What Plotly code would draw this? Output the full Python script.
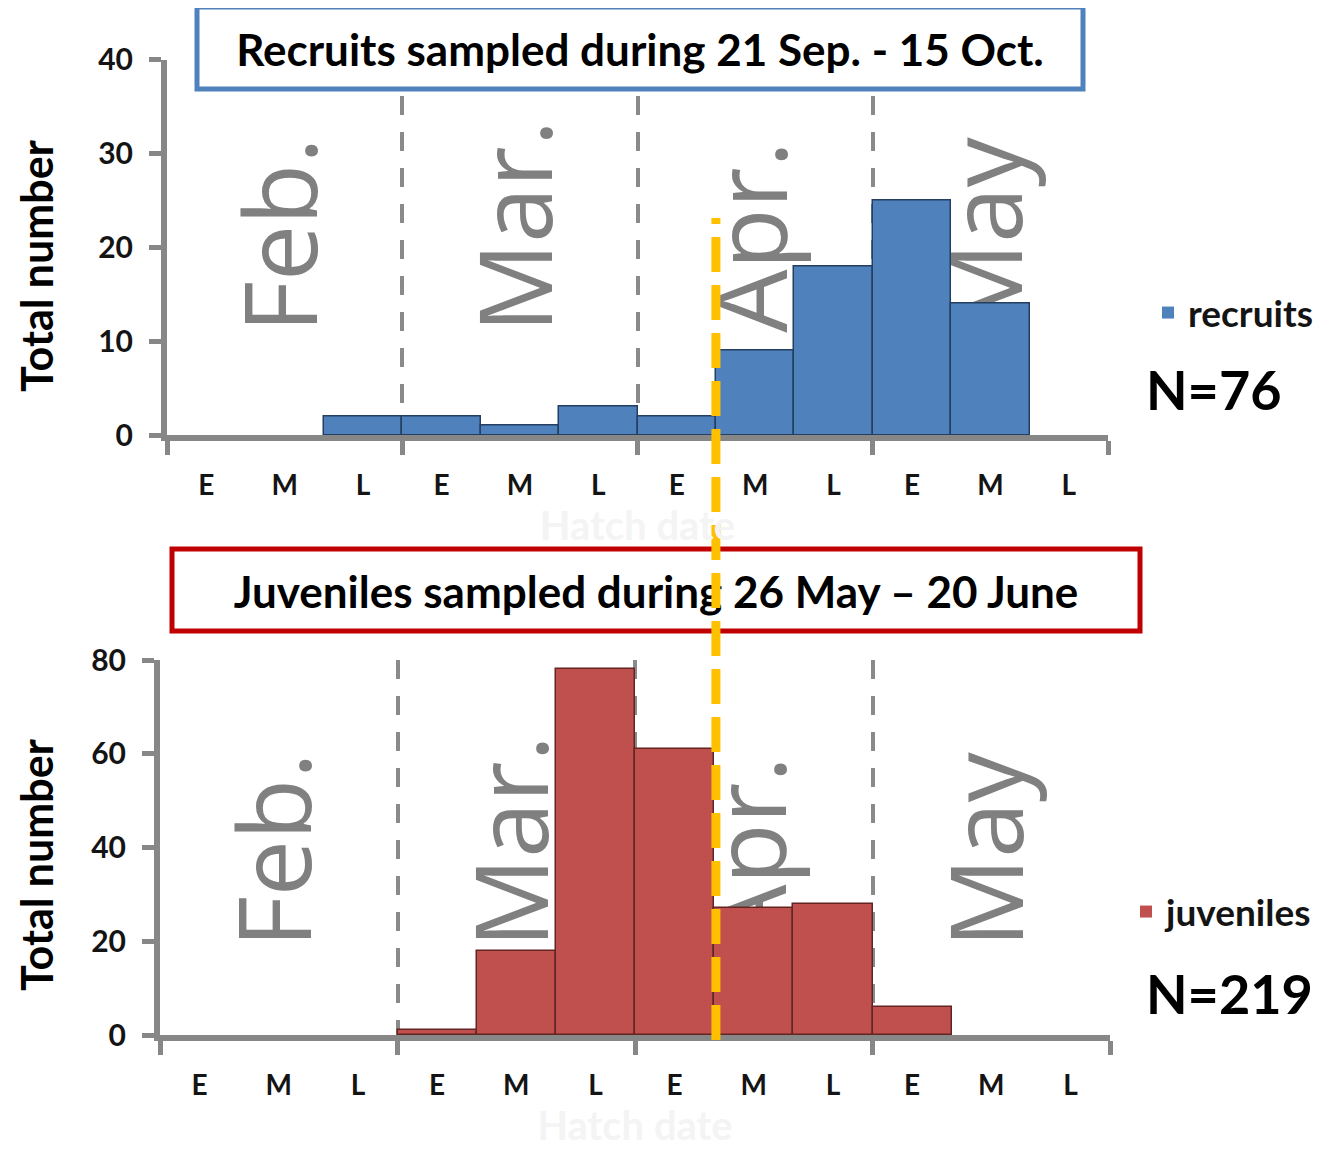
import plotly.graph_objects as go

# ---------------- data ----------------
months = ["Feb.", "Mar.", "Apr.", "May"]
periods = ["E", "M", "L"]
recruits = [0, 0, 2, 2, 1, 3, 2, 9, 18, 25, 14, 0]
juveniles = [0, 0, 0, 1, 18, 78, 61, 27, 28, 6, 0, 0]
top_yticks = [0, 10, 20, 30, 40]
bottom_yticks = [0, 20, 40, 60, 80]
top_title = "Recruits sampled during 21 Sep. - 15 Oct."
bottom_title = "Juveniles sampled during 26 May \u2013 20 June"
top_n = "N=76"
bottom_n = "N=219"
y_title = "Total number"
x_title = "Hatch date"
cutoff_bin = 7  # boundary between early and mid April

# ---------------- derived ----------------
bin_labels = [p for m in months for p in periods]
centers = [i + 0.5 for i in range(len(bin_labels))]
boundaries = [3 * i for i in range(len(months) + 1)]
nbins = len(bin_labels)

W, H = 1329, 1164
OFF = 8  # page body margin
def px(v):
    return (v - OFF) / W
def py(v):
    return 1 - (v - OFF) / H

FONT = "Lato, 'Open Sans', sans-serif"
MONTH_FONT = "'Open Sans', Lato, sans-serif"
AXC = "#878787"
TXT = "#141414"

def outline_widths(vals):
    return [0 if v == 0 else 1.5 for v in vals]

fig = go.Figure()
fig.add_trace(go.Bar(
    x=centers, y=recruits, width=1, name="recruits", showlegend=True,
    marker=dict(color="#4F81BD", line=dict(color="#243F60", width=outline_widths(recruits))),
    xaxis="x", yaxis="y", legend="legend",
))
fig.add_trace(go.Bar(
    x=centers, y=juveniles, width=1, name="juveniles", showlegend=True,
    marker=dict(color="#C0504D", line=dict(color="#632523", width=outline_widths(juveniles))),
    xaxis="x2", yaxis="y2", legend="legend2",
))

def xaxis_cfg(domain, anchor):
    return dict(
        domain=domain, anchor=anchor, range=[0, nbins], automargin=False,
        tickmode="array", tickvals=centers, ticktext=bin_labels,
        ticks="", showgrid=False, zeroline=False,
        showline=True, linecolor=AXC, linewidth=6,
        tickfont=dict(family=FONT, size=28, color=TXT, weight="bold"),
        ticklabelstandoff=20,
        minor=dict(tickmode="array", tickvals=boundaries, ticks="outside",
                   ticklen=14, tickwidth=5, tickcolor=AXC,
                   showgrid=True, gridcolor="#8A8A8A", gridwidth=3.5,
                   griddash="19px,17px"),
        title=dict(text=x_title, font=dict(family=FONT, size=40, color="#F4F4F4", weight="bold"),
                   standoff=12),
    )

def yaxis_cfg(domain, anchor, ticks):
    return dict(
        domain=domain, anchor=anchor, range=[0, ticks[-1]], automargin=False,
        tickmode="array", tickvals=ticks,
        ticks="outside", ticklen=12, tickwidth=5, tickcolor=AXC,
        showgrid=False, zeroline=False,
        showline=True, linecolor=AXC, linewidth=6,
        tickfont=dict(family=FONT, size=30, color=TXT, weight="bold"),
        ticklabelstandoff=10,
    )

shapes = []
# month labels (drawn behind bars)
for (xr, yr, ystart, ytop) in [("x", "y", 10.9, 40), ("x2", "y2", 18.6, 80)]:
    for i, m in enumerate(months):
        xc = boundaries[i] + 1.5
        shapes.append(dict(
            type="line", xref=xr, yref=yr, x0=xc, x1=xc, y0=ystart, y1=ytop,
            line=dict(color="rgba(0,0,0,0)", width=0), layer="between",
            label=dict(text=m, textangle=-90, textposition="start",
                       xanchor="left", yanchor="middle", padding=0,
                       font=dict(family=MONTH_FONT, size=100, color="#808080")),
        ))

# title boxes
shapes.append(dict(
    type="rect", xref="paper", yref="paper",
    x0=px(197), x1=px(1083), y0=py(89), y1=py(7),
    line=dict(color="#4F81BD", width=5), fillcolor="white", layer="above",
    label=dict(text=top_title, textposition="middle center",
               font=dict(family=FONT, size=44, color="#000000", weight="bold")),
))
shapes.append(dict(
    type="rect", xref="paper", yref="paper",
    x0=px(172), x1=px(1140), y0=py(631), y1=py(549),
    line=dict(color="#C00000", width=5), fillcolor="white", layer="above",
    label=dict(text=bottom_title, textposition="middle center",
               font=dict(family=FONT, size=44, color="#000000", weight="bold")),
))
# yellow dashed cut-off line across both panels
shapes.append(dict(
    type="line", xref="x", yref="paper", x0=cutoff_bin, x1=cutoff_bin,
    y0=py(1040), y1=py(218),
    line=dict(color="#FFC000", width=9, dash="35px,13px"), layer="above",
))

annotations = [
    dict(text=y_title, xref="paper", yref="paper", x=px(36), y=py(266),
         xanchor="center", yanchor="middle", textangle=-90, showarrow=False,
         font=dict(family=FONT, size=43, color="#000000", weight="bold")),
    dict(text=y_title, xref="paper", yref="paper", x=px(36), y=py(865),
         xanchor="center", yanchor="middle", textangle=-90, showarrow=False,
         font=dict(family=FONT, size=43, color="#000000", weight="bold")),
    dict(text=top_n, xref="paper", yref="paper", x=px(1144), y=py(390),
         xanchor="left", yanchor="middle", showarrow=False,
         font=dict(family=FONT, size=54, color="#000000", weight="bold")),
    dict(text=bottom_n, xref="paper", yref="paper", x=px(1144), y=py(993),
         xanchor="left", yanchor="middle", showarrow=False,
         font=dict(family=FONT, size=54, color="#000000", weight="bold")),
]

legend_common = dict(xanchor="left", yanchor="middle", bgcolor="rgba(0,0,0,0)",
                     borderwidth=0, itemwidth=30, visible=True,
                     font=dict(family=FONT, size=37, color=TXT, weight="bold"))

fig.update_layout(
    width=W, height=H, autosize=False,
    margin=dict(l=0, r=0, t=0, b=0, pad=0),
    paper_bgcolor="white", plot_bgcolor="rgba(0,0,0,0)",
    bargap=0, showlegend=True,
    xaxis=xaxis_cfg([px(167), px(1108)], "y"),
    yaxis=yaxis_cfg([py(435), py(59.5)], "x", top_yticks),
    xaxis2=xaxis_cfg([px(160), px(1110)], "y2"),
    yaxis2=yaxis_cfg([py(1035), py(660)], "x2", bottom_yticks),
    legend=dict(x=px(1148), y=py(313), **legend_common),
    legend2=dict(x=px(1126), y=py(912), **legend_common),
    shapes=shapes,
    annotations=annotations,
)

fig.write_html("out.html")
